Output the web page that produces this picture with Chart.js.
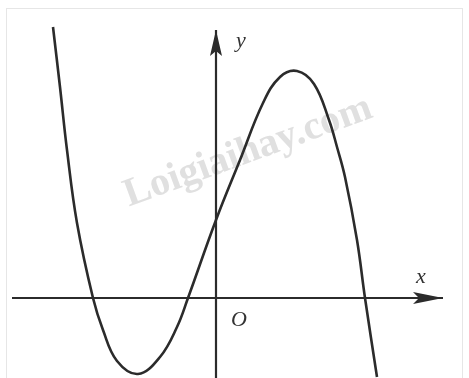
<!DOCTYPE html>
<html>
<head>
<meta charset="utf-8">
<script src="https://cdn.jsdelivr.net/npm/chart.js@4"></script>
<style>
html, body { margin: 0; padding: 0; background: #fff; }
#wrap { position: relative; width: 469px; height: 378px; overflow: hidden; }
#frame { position: absolute; left: 6px; top: 8px; width: 455px; height: 380px; border: 1px solid #e6e6e6; pointer-events: none; }
</style>
</head>
<body>
<div id="wrap"><canvas id="graph"></canvas><div id="frame"></div></div>
<script>
// curve points (1 unit = 20px, origin at the axes crossing)
const curveX = [-8.15, -7.8, -7.45, -6.95, -6.15, -5.65, -4.95, -3.9, -2.8, -1.95, -1.4, 0, 1.2, 2.35, 3.2, 4.05, 4.9, 5.65, 6.05, 6.45, 7.05, 7.45, 8.05];
const curveY = [13.55, 10.55, 7.4, 3.75, 0, -1.6, -3.15, -3.8, -2.95, -1.45, 0, 3.9, 6.9, 9.75, 11.05, 11.35, 10.7, 8.9, 7.55, 6.05, 2.9, 0, -3.95];

const xAxisRange = [-10.2, 11.35];
const yAxisRange = [-4.1, 13.4];
const watermark = 'Loigiaihay.com';

const ink = '#2b2b2b';

const decor = {
  id: 'decor',
  beforeDatasetsDraw(chart) {
    const { ctx, scales: { x, y } } = chart;
    ctx.save();
    ctx.translate(x.getPixelForValue(1.6), y.getPixelForValue(7.3));
    ctx.rotate(-0.35);
    ctx.font = 'bold 40px "Liberation Serif", serif';
    ctx.fillStyle = '#e0e0e0';
    ctx.textAlign = 'center';
    ctx.textBaseline = 'middle';
    ctx.fillText(watermark, 0, 0);
    ctx.restore();
  },
  afterDatasetsDraw(chart) {
    const { ctx, scales: { x, y } } = chart;
    const ox = x.getPixelForValue(0), oy = y.getPixelForValue(0);
    const xt = x.getPixelForValue(xAxisRange[1]);
    const yt = y.getPixelForValue(yAxisRange[1]);
    ctx.save();
    ctx.fillStyle = ink;
    // x arrow
    ctx.beginPath();
    ctx.moveTo(xt, oy);
    ctx.lineTo(xt - 30, oy - 6);
    ctx.lineTo(xt - 24, oy);
    ctx.lineTo(xt - 30, oy + 6);
    ctx.closePath();
    ctx.fill();
    // y arrow
    ctx.beginPath();
    ctx.moveTo(ox, yt);
    ctx.lineTo(ox - 6, yt + 26);
    ctx.lineTo(ox, yt + 21);
    ctx.lineTo(ox + 6, yt + 26);
    ctx.closePath();
    ctx.fill();
    // labels
    ctx.font = 'italic 22px "Liberation Serif", serif';
    ctx.textAlign = 'center';
    ctx.textBaseline = 'middle';
    ctx.fillStyle = '#333';
    ctx.fillText('y', ox + 25, yt + 11);
    ctx.fillText('x', xt - 22, oy - 21);
    ctx.fillText('O', ox + 23, oy + 22);
    ctx.restore();
  }
};

new Chart(document.getElementById('graph'), {
  type: 'line',
  data: {
    datasets: [
      {
        data: curveX.map((v, i) => ({ x: v, y: curveY[i] })),
        borderColor: ink,
        borderWidth: 2.6,
        pointRadius: 0,
        tension: 0.4,
        clip: false
      },
      {
        data: xAxisRange.map(v => ({ x: v, y: 0 })),
        borderColor: ink,
        borderWidth: 2.2,
        pointRadius: 0
      },
      {
        data: yAxisRange.map(v => ({ x: 0, y: v })),
        borderColor: ink,
        borderWidth: 2.2,
        pointRadius: 0
      }
    ]
  },
  options: {
    responsive: true,
    maintainAspectRatio: false,
    animation: false,
    layout: { padding: 0 },
    plugins: { legend: { display: false }, tooltip: { enabled: false } },
    scales: {
      x: { type: 'linear', min: -10.8, max: 12.65, display: false },
      y: { type: 'linear', min: -4, max: 14.9, display: false }
    }
  },
  plugins: [decor]
});
</script>
</body>
</html>
